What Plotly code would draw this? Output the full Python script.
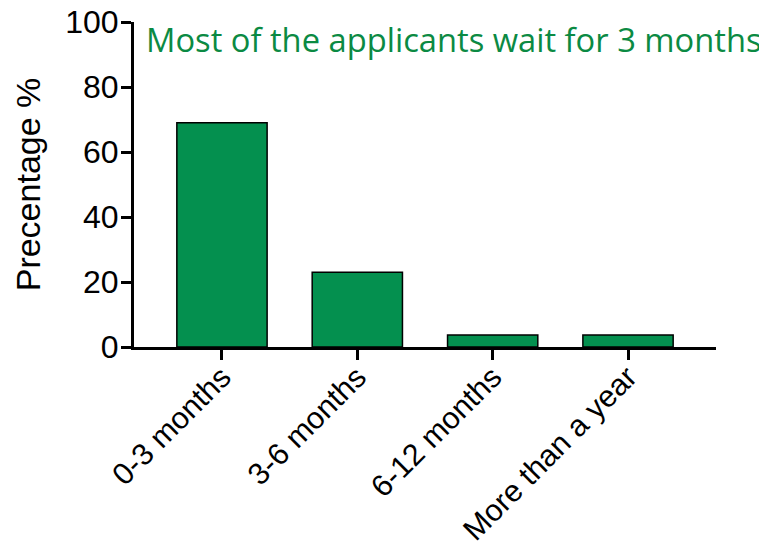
import plotly.graph_objects as go

# Data
categories = ["0-3 months", "3-6 months", "6-12 months", "More than a year"]
percentages = [69, 23, 3.7, 3.7]
y_ticks = [0, 20, 40, 60, 80, 100]

GREEN = "#04904F"
TITLE_GREEN = "#0B8A43"
SANS = "Liberation Sans"

fig = go.Figure()

fig.add_trace(
    go.Bar(
        x=categories,
        y=percentages,
        width=0.667,
        marker=dict(color=GREEN, line=dict(color="black", width=1.5)),
        showlegend=False,
    )
)

fig.add_annotation(
    text="Most of the applicants wait for 3 months",
    xref="paper", yref="paper",
    x=0.017, y=1.021,
    xanchor="left", yanchor="top",
    showarrow=False,
    font=dict(family="Open Sans", size=32.7, color=TITLE_GREEN),
)

# page body has an 8px margin, so the figure is a bit smaller than the window
fig.update_layout(
    width=759,
    height=538,
    margin=dict(l=126, r=51, t=14, b=199),
    paper_bgcolor="white",
    plot_bgcolor="white",
    font=dict(family=SANS, color="black"),
)

fig.update_xaxes(
    range=[-0.65, 3.65],
    automargin=False,
    showline=True, linecolor="black", linewidth=3,
    ticks="outside", ticklen=10, tickwidth=3, tickcolor="black",
    tickangle=-45,
    ticklabelstandoff=-13,
    ticklabeloverflow="allow",
    tickfont=dict(family=SANS, size=30.5),
    showgrid=False, zeroline=False,
)

fig.update_yaxes(
    range=[0, 100],
    automargin=False,
    tickvals=y_ticks,
    showline=True, linecolor="black", linewidth=3,
    ticks="outside", ticklen=10, tickwidth=3, tickcolor="black",
    ticklabelstandoff=-4,
    ticklabeloverflow="allow",
    tickfont=dict(family=SANS, size=32),
    title=dict(text="Precentage %", font=dict(family=SANS, size=34), standoff=15),
    showgrid=False, zeroline=False,
)

fig.write_html("out.html")
